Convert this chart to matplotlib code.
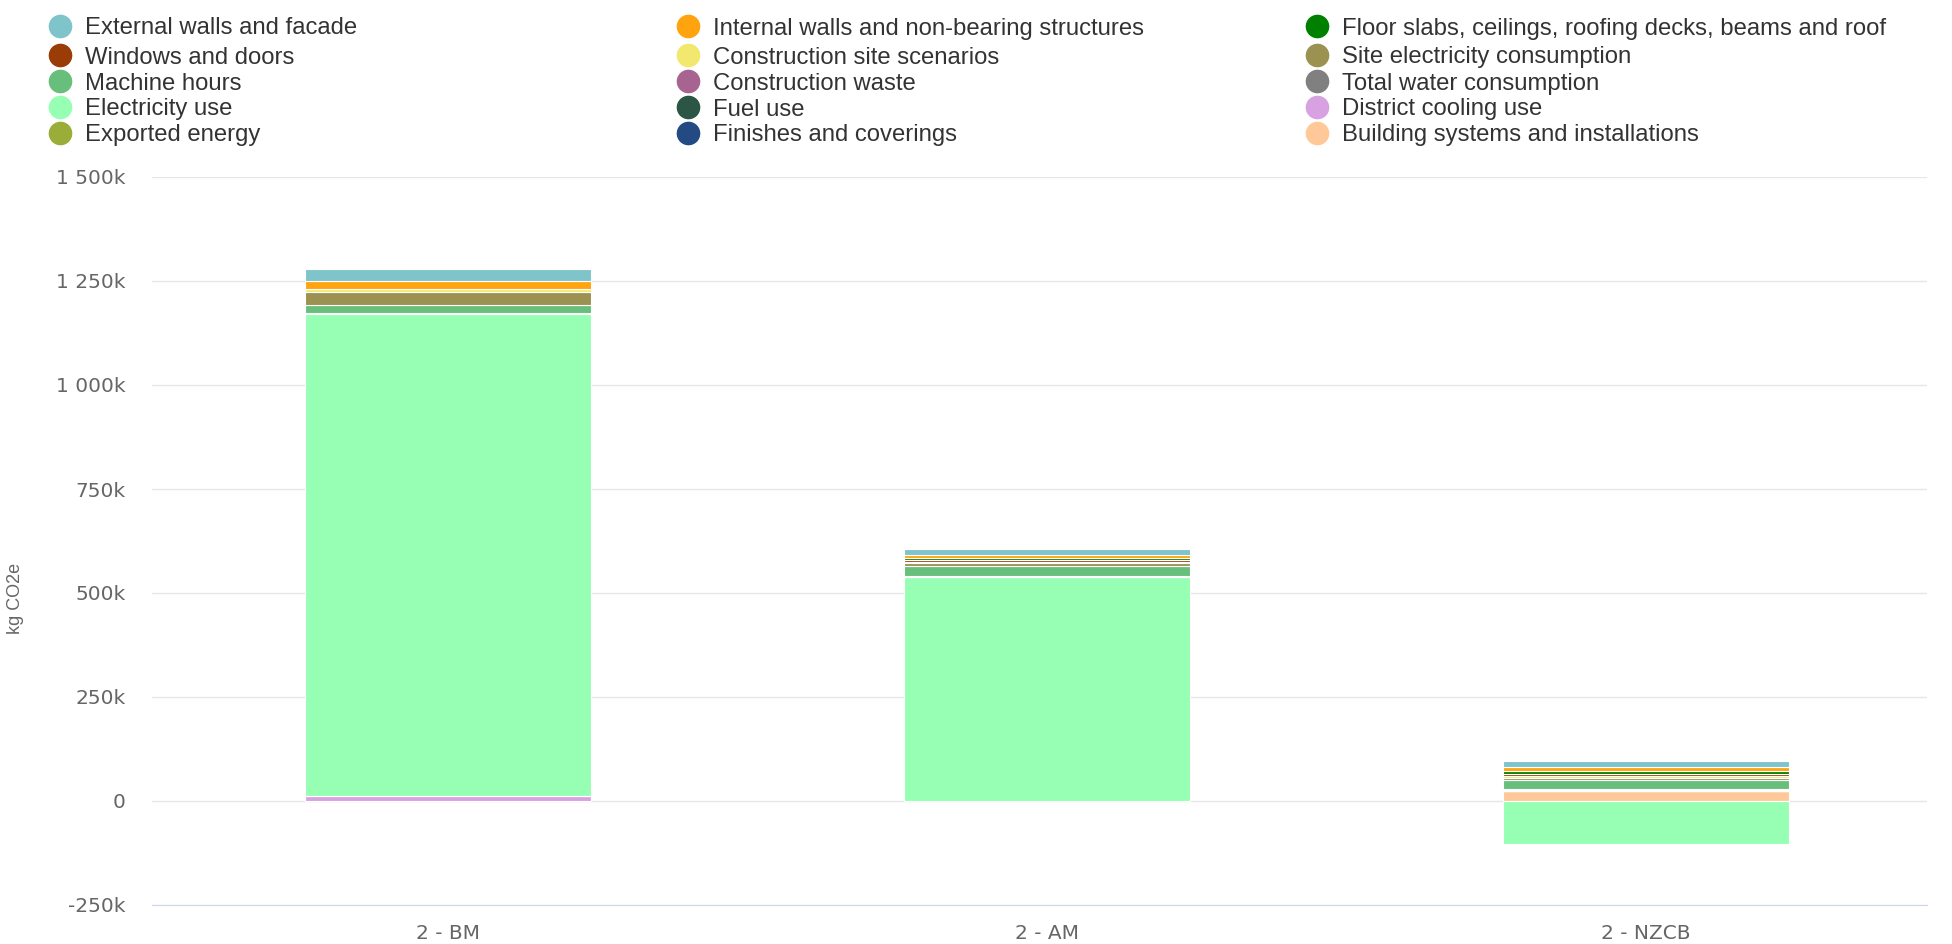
import matplotlib.pyplot as plt
import numpy as np
from matplotlib.lines import Line2D
from matplotlib.ticker import FuncFormatter

plt.rcParams['font.family'] = ['Liberation Sans', 'DejaVu Sans']

# scenarios on the x axis
scenarios = ['2 - BM', '2 - AM', '2 - NZCB']

# series in legend order (kg CO2e, thousands)
series = ['External walls and facade', 'Internal walls and non-bearing structures',
          'Floor slabs, ceilings, roofing decks, beams and roof',
          'Windows and doors', 'Construction site scenarios', 'Site electricity consumption',
          'Machine hours', 'Construction waste', 'Total water consumption',
          'Electricity use', 'Fuel use', 'District cooling use',
          'Exported energy', 'Finishes and coverings', 'Building systems and installations']
colors = ['#7fc4ca', '#ffa40f', '#008000', '#9a3c06', '#f2e86d', '#9b9150',
          '#68bf7b', '#a86490', '#808080', '#96ffb4', '#2b5545', '#d8a1e1',
          '#99ad38', '#234a83', '#ffc899']

external = [30, 14, 14]
internal = [18, 8, 10]
floor_slabs = [0, 5, 6]
windows = [0, 4, 6]
site_scen = [8, 4, 3]
site_elec = [30, 7, 6]
machine = [20, 22, 20]
waste = [1, 2, 3]
water = [1, 2, 3]
electricity = [1159, 538, -103]
fuel = [0, 0, 0]
district_cooling = [12, 0, 0]
exported = [0, 0, 0]
finishes = [0, 0, 0]
building_systems = [0, 0, 24]

values = [external, internal, floor_slabs, windows, site_scen, site_elec, machine,
          waste, water, electricity, fuel, district_cooling, exported, finishes,
          building_systems]

fig = plt.figure(figsize=(19.52, 9.44), dpi=100)
ax = fig.add_axes([152 / 1952, 1 - 905 / 944, (1927 - 152) / 1952, (905 - 177) / 944])

x = np.arange(len(scenarios))
pos_base = np.zeros(len(scenarios))
neg_base = np.zeros(len(scenarios))
# last series sits at the bottom of the stack, first one on top
for name, vals, col in reversed(list(zip(series, values, colors))):
    v = np.array(vals, dtype=float) * 1000
    bottom = np.where(v >= 0, pos_base, neg_base)
    ax.bar(x, v, width=0.478, bottom=bottom, color=col, edgecolor='white',
           linewidth=0.8, zorder=3)
    pos_base += np.where(v > 0, v, 0)
    neg_base += np.where(v < 0, v, 0)

ax.set_xlim(-0.495, 2.47)
ax.set_ylim(-250000, 1500000)
ax.set_yticks(np.arange(-250000, 1500001, 250000))


def fmt(val, pos):
    if val == 0:
        return '0'
    k = int(round(val / 1000))
    s = '{:,}'.format(abs(k)).replace(',', ' ')
    return ('-' if k < 0 else '') + s + 'k'


ax.yaxis.set_major_formatter(FuncFormatter(fmt))
ax.set_xticks(x)
ax.set_xticklabels(scenarios)
ax.grid(axis='y', color='#e6e6e6', linewidth=1, zorder=0)
for s in ['top', 'right', 'left']:
    ax.spines[s].set_visible(False)
ax.spines['bottom'].set_color('#ccd6eb')
ax.tick_params(axis='both', length=0, labelcolor='#666666', labelsize=14.5)
ax.tick_params(axis='y', pad=19)
ax.tick_params(axis='x', pad=14)
for lab in ax.get_xticklabels() + ax.get_yticklabels():
    lab.set_family('DejaVu Sans')

fig.text(15 / 1952, 1 - 598 / 944, 'kg CO2e', rotation=90, color='#666666',
         fontsize=13, ha='center', va='center')

# legend, three columns filled row by row
col_x = [60, 688, 1317]
row_y = [26, 55, 81, 107, 133]
for i, (name, col) in enumerate(zip(series, colors)):
    r, c = divmod(i, 3)
    mx = col_x[c] / 1952
    my = 1 - row_y[r] / 944
    fig.add_artist(Line2D([mx], [my], marker='o', markersize=16, color=col,
                          linestyle='none', transform=fig.transFigure))
    fig.text(mx + 25 / 1952, my - 2.5 / 944, name, fontsize=17.2, color='#333333',
             va='center', ha='left')

fig.savefig('out.png', dpi=100)
